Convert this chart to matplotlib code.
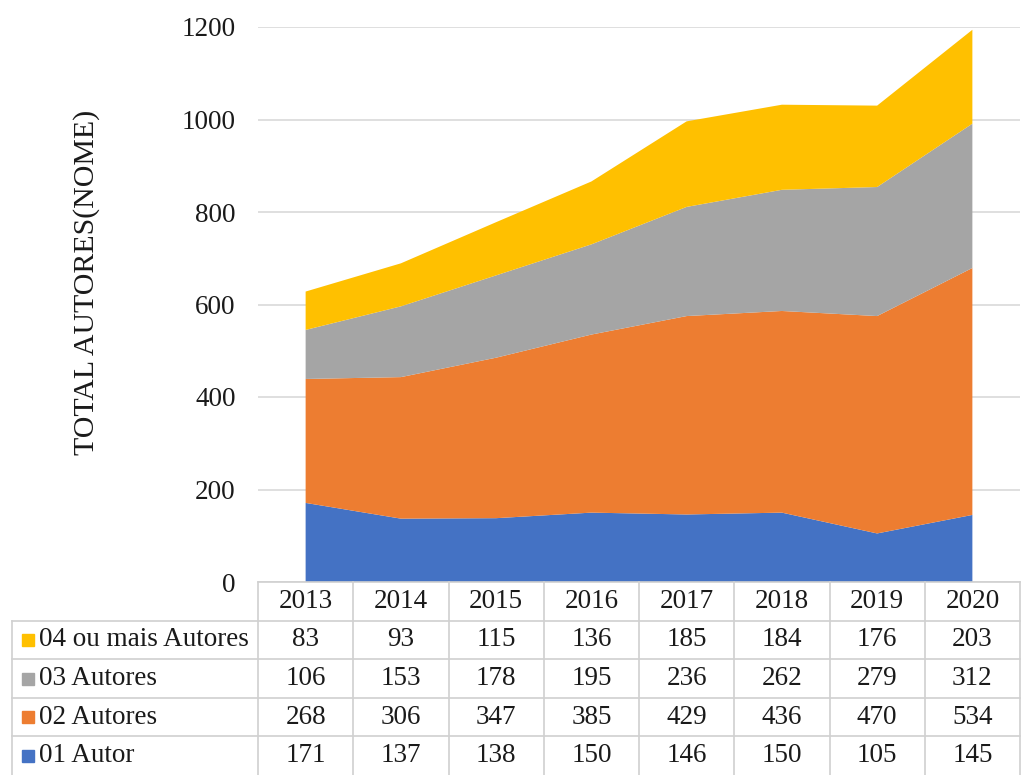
import matplotlib.pyplot as plt

# data
years = ["2013", "2014", "2015", "2016", "2017", "2018", "2019", "2020"]
autor_01 = [171, 137, 138, 150, 146, 150, 105, 145]
autores_02 = [268, 306, 347, 385, 429, 436, 470, 534]
autores_03 = [106, 153, 178, 195, 236, 262, 279, 312]
autores_04 = [83, 93, 115, 136, 185, 184, 176, 203]

series_names = ["01 Autor", "02 Autores", "03 Autores", "04 ou mais Autores"]
colors = ["#4472C4", "#ED7D31", "#A5A5A5", "#FFC000"]

plt.rcParams['font.family'] = ['Liberation Serif', 'DejaVu Serif']

W, H = 1022, 775
fig = plt.figure(figsize=(W / 100, H / 100), dpi=100)

# main area chart
ax = fig.add_axes([258 / W, (H - 582) / H, (1020 - 258) / W, (582 - 27) / H])
x = list(range(len(years)))
ax.stackplot(x, autor_01, autores_02, autores_03, autores_04, colors=colors, zorder=2)
ax.set_xlim(-0.5, len(years) - 0.5)
ax.set_ylim(0, 1200)
ax.set_yticks(range(0, 1201, 200))
ax.set_xticks([])
ax.grid(axis='y', color='#D9D9D9', linewidth=1.2, zorder=0)
ax.set_axisbelow(True)
for s in ax.spines.values():
    s.set_visible(False)
ax.tick_params(axis='y', length=0, pad=16, labelsize=19.5, labelcolor='#1a1a1a')
ax.set_ylabel("TOTAL AUTORES(NOME)", fontsize=21.5, color='#1a1a1a')
ax.yaxis.set_label_coords(-0.207, 0.54)

# data table below
label_w = 246 / 95.25
tax = fig.add_axes([12 / W, 0, (1020 - 12) / W, (H - 582) / H])
left = -0.5 - label_w
tax.set_xlim(left, len(years) - 0.5)
tax.set_ylim(0, 5)
tax.axis('off')

line_kw = dict(color='#D0D0D0', linewidth=1.2, clip_on=False)
tax.plot([-0.5, len(years) - 0.5], [5, 5], **line_kw)
for r in range(1, 5):
    tax.plot([left, len(years) - 0.5], [r, r], **line_kw)
tax.plot([left, left], [0, 4], **line_kw)
for k in range(len(years) + 1):
    tax.plot([k - 0.5, k - 0.5], [0, 5], **line_kw)

fs = 19.5
for i, yr in enumerate(years):
    tax.text(i, 4.5, yr, ha='center', va='center', fontsize=fs, color='#1a1a1a')

rows = [(autores_04, series_names[3], colors[3]),
        (autores_03, series_names[2], colors[2]),
        (autores_02, series_names[1], colors[1]),
        (autor_01, series_names[0], colors[0])]
for j, (vals, name, c) in enumerate(rows):
    yc = 3.5 - j
    tax.plot([left + 16 / 95.25], [yc], marker='s', markersize=8.5, color=c, clip_on=False)
    tax.text(left + 27 / 95.25, yc, name, ha='left', va='center', fontsize=fs, color='#1a1a1a')
    for i, v in enumerate(vals):
        tax.text(i, yc, str(v), ha='center', va='center', fontsize=fs, color='#1a1a1a')

fig.savefig("out.png", dpi=100)
